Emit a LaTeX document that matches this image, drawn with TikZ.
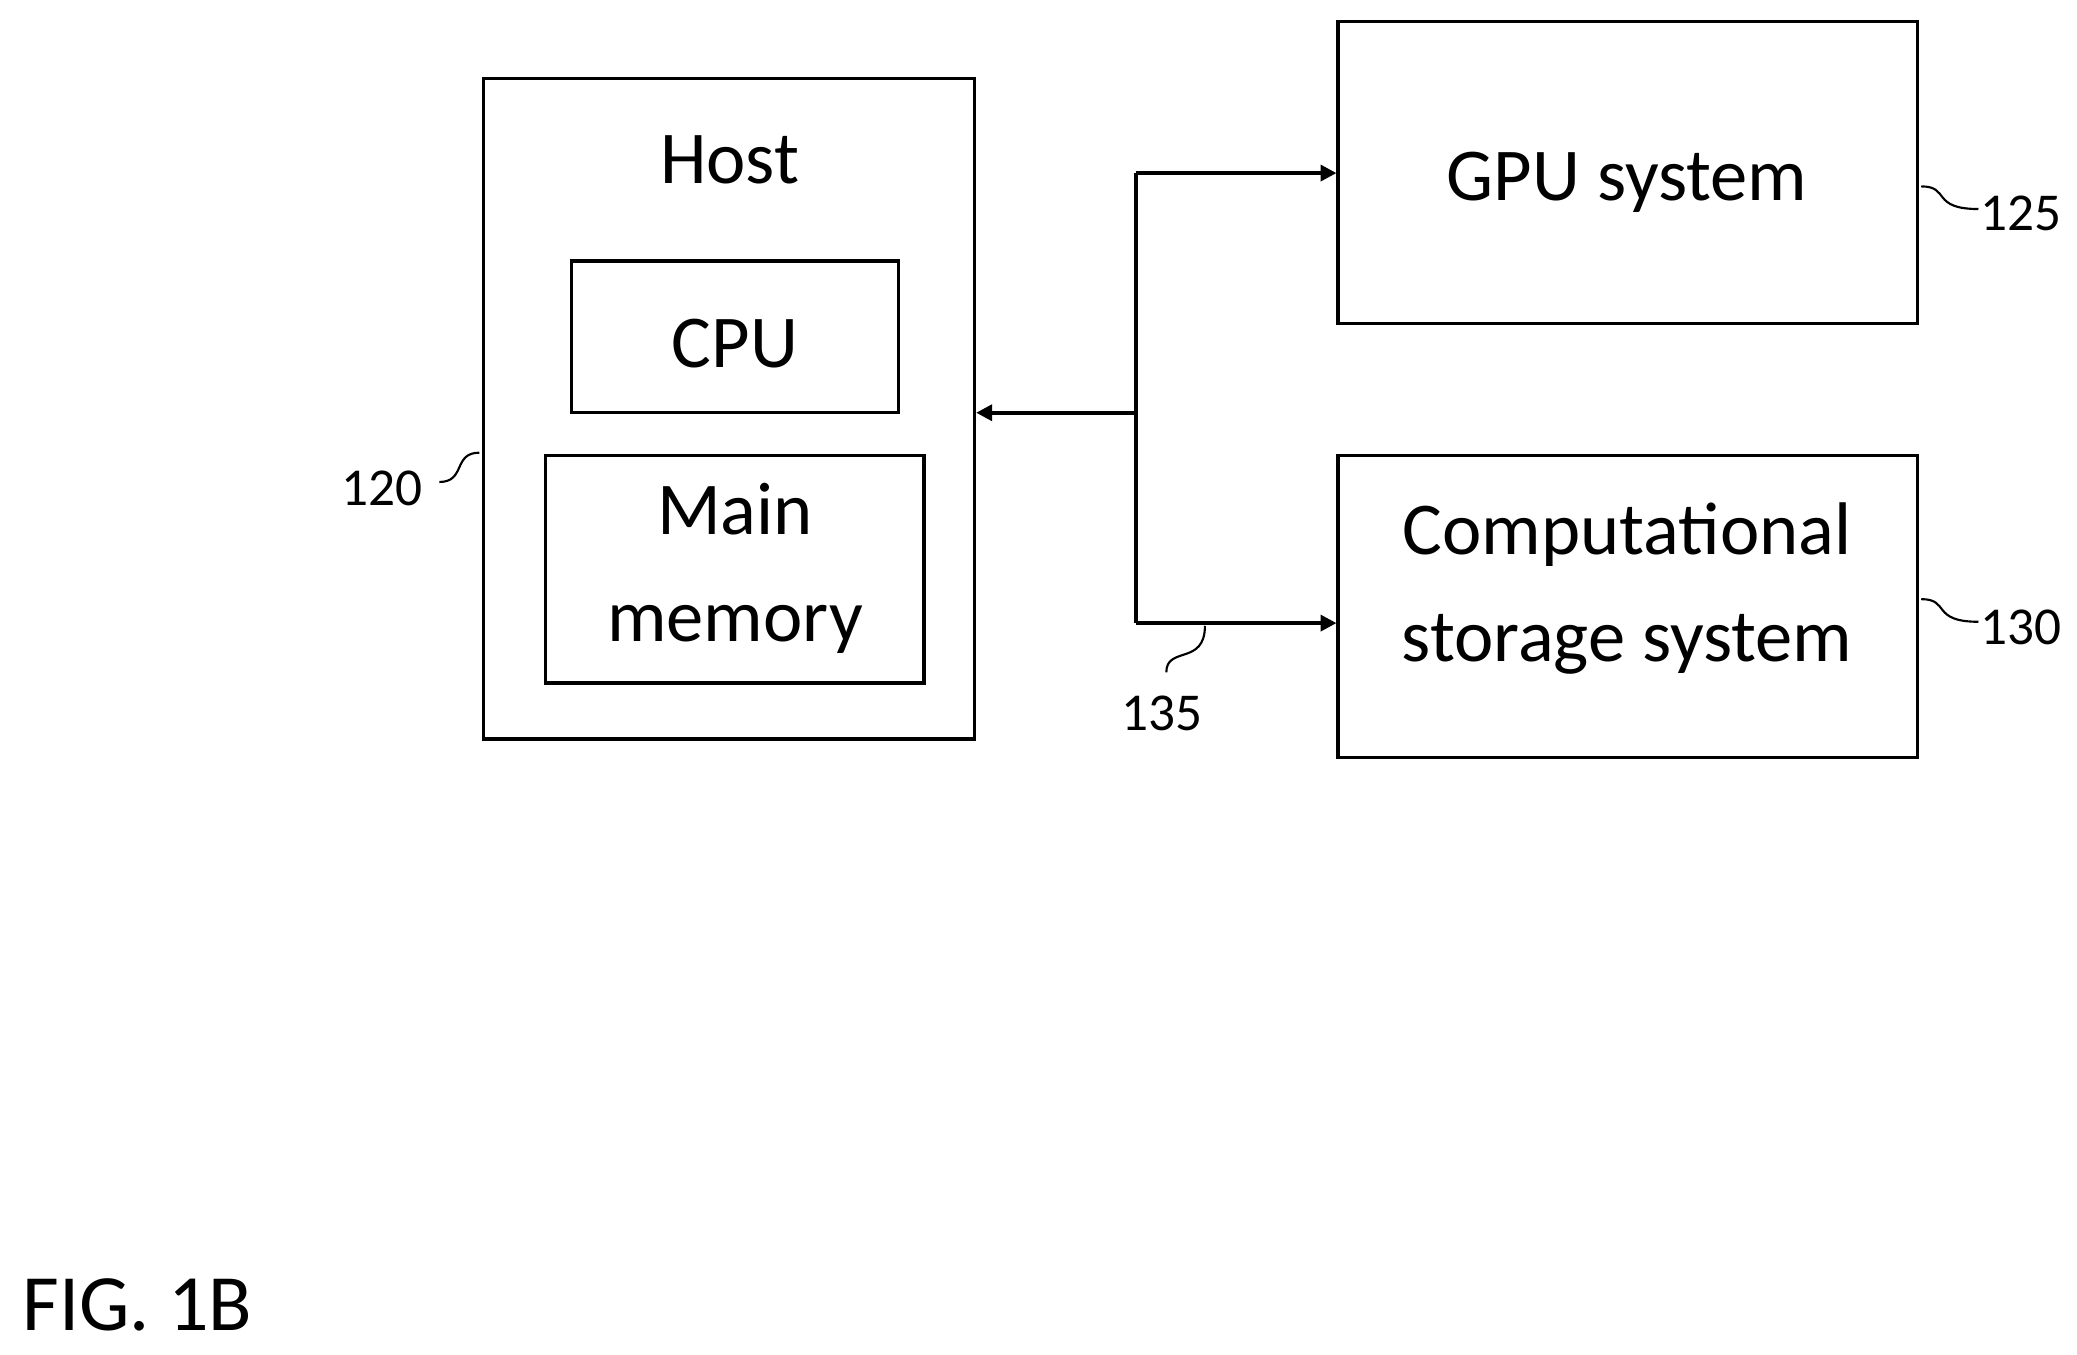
\documentclass[tikz,border=0pt]{standalone}
\usepackage{fontspec}
\setmainfont{Carlito}
\usetikzlibrary{arrows.meta, positioning, calc}
\tikzset{
  block/.style={rectangle, draw=black, line width=1.2pt, inner sep=0pt, align=center},
  blocktext/.style={font=\fontsize{28}{40}\selectfont, align=center},
  reflabel/.style={font=\fontsize{20}{24}\selectfont},
  bus/.style={line width=1.4pt},
  busarrow/.style={-{Triangle[length=6pt,width=6pt]}, line width=1.4pt},
  squiggle/.style={line width=0.8pt}
}
\begin{document}
\begin{tikzpicture}[x=0.5pt, y=-0.5pt]
    \useasboundingbox (0,0) rectangle (1560,1017);

    % Host
    \node[block, minimum width=184.5pt, minimum height=248pt] (host) at (547.5,307) {};
    \node[blocktext] (hostlbl) at (548,120) {Host};
    \node[block, minimum width=123pt, minimum height=57pt] (cpu) at (552,253) {};
    \node[blocktext] (cpulbl) at (552,258) {CPU};
    \node[block, minimum width=142pt, minimum height=85.5pt] (mem) at (552,427.5) {};
    \node[blocktext] (memlbl) at (552,427) {Main\\memory};

    % Devices
    \node[block, minimum width=217.5pt, minimum height=113.5pt] (gpu) at (1222.5,129.5) {};
    \node[blocktext] (gpulbl) at (1222,137) {GPU system};
    \node[block, minimum width=217.5pt, minimum height=113.5pt] (css) at (1222.5,455.5) {};
    \node[blocktext] (csslbl) at (1222,442) {Computational\\storage system};

    % Bus
    \coordinate (btop) at (853,130);
    \coordinate (bmid) at (853,310);
    \coordinate (bbot) at (853,468);
    \draw[bus] (btop) -- (bbot);
    \draw[busarrow] (bmid) -- (host.east |- bmid);
    \draw[busarrow] (btop) -- (gpu.west |- btop);
    \draw[busarrow] (bbot) -- (css.west |- bbot);

    % Reference numerals
    \node[reflabel] (n120) at (287,367) {120};
    \node[reflabel] (n125) at (1518,160) {125};
    \node[reflabel] (n130) at (1518,471) {130};
    \node[reflabel] (n135) at (873,536) {135};
    \draw[squiggle] (330,362) .. controls (350,362) and (340,340) .. (360,340);
    \draw[squiggle] (1443,140) .. controls (1465,140) and (1450,157) .. (1486,157);
    \draw[squiggle] (1443,450) .. controls (1465,450) and (1450,467) .. (1486,467);
    \draw[squiggle] (876,505) .. controls (876,485) and (905,500) .. (905,470);

    \node[font=\fontsize{30}{34}\selectfont, anchor=west] (fig) at (10,980) {FIG. 1B};
\end{tikzpicture}
\end{document}
